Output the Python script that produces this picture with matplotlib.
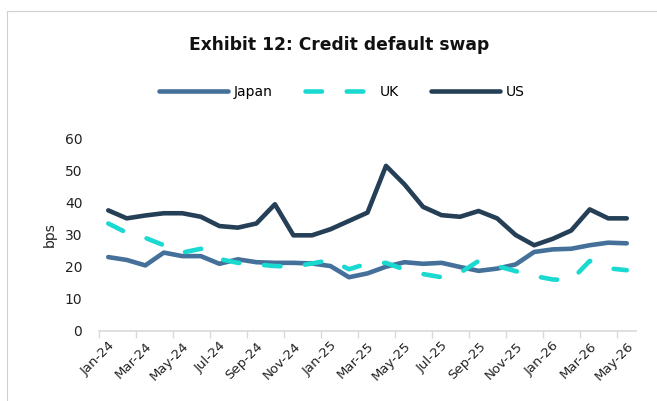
import numpy as np
import matplotlib.pyplot as plt
from matplotlib.patches import Rectangle

months = ['Jan-24', 'Feb-24', 'Mar-24', 'Apr-24', 'May-24', 'Jun-24', 'Jul-24', 'Aug-24',
          'Sep-24', 'Oct-24', 'Nov-24', 'Dec-24', 'Jan-25', 'Feb-25', 'Mar-25', 'Apr-25',
          'May-25', 'Jun-25', 'Jul-25', 'Aug-25', 'Sep-25', 'Oct-25', 'Nov-25', 'Dec-25',
          'Jan-26', 'Feb-26', 'Mar-26', 'Apr-26', 'May-26']

japan = [23.1, 22.2, 20.5, 24.5, 23.4, 23.4, 21.0, 22.4, 21.5, 21.3, 21.3, 21.1, 20.3, 16.8,
         18.0, 20.1, 21.5, 21.0, 21.3, 20.0, 18.8, 19.5, 20.8, 24.7, 25.5, 25.7, 26.8, 27.6, 27.4]
uk = [33.6, 30.7, 29.1, 26.8, 24.5, 25.7, 22.5, 21.3, 20.8, 20.3, 20.1, 21.1, 22.2, 19.3,
      21.1, 21.3, 19.2, 17.8, 16.8, 18.2, 21.9, 20.3, 18.7, 17.2, 16.1, 15.9, 21.9, 19.6, 19.0]
us = [37.7, 35.2, 36.1, 36.8, 36.8, 35.7, 32.8, 32.3, 33.6, 39.6, 29.9, 29.9, 31.8, 34.4,
      37.0, 51.6, 45.8, 38.8, 36.2, 35.7, 37.5, 35.2, 30.0, 26.8, 28.8, 31.4, 38.0, 35.2, 35.2]

c_japan = '#44709A'
c_uk = '#19D9D1'
c_us = '#253F57'

fig = plt.figure(figsize=(6.57, 4.01), dpi=100)
# light frame around the chart (only left and top edges fall inside the image)
fig.patches.append(Rectangle((7 / 657, -0.05), 1.2, (401 - 11) / 401 + 0.05,
                             transform=fig.transFigure, fill=False,
                             edgecolor='#D0D0D0', lw=0.8))

ax = fig.add_axes([99 / 657, 70 / 401, (636 - 99) / 657, 192 / 401])
x = np.arange(len(months))

ax.plot(x, japan, color=c_japan, lw=3.3, solid_capstyle='round', label='Japan')
ax.plot(x, uk, color=c_uk, lw=3.3, dashes=(3.6, 5.4), dash_capstyle='round', label='UK')
ax.plot(x, us, color=c_us, lw=3.3, solid_capstyle='round', label='US')

ax.set_xlim(-0.5, len(months) - 0.5)
ax.set_ylim(0, 60)
ax.set_yticks(range(0, 61, 10))
ax.tick_params(axis='y', length=0, pad=12, labelsize=10, labelcolor='#222222')

ax.set_xticks(x[::2])
ax.set_xticklabels(months[::2], rotation=45, ha='right', rotation_mode='anchor')
ax.set_xticks(np.arange(-0.5, len(months) - 1, 2), minor=True)
ax.tick_params(axis='x', which='major', length=0, pad=6, labelsize=9.5, labelcolor='#222222')
ax.tick_params(axis='x', which='minor', length=5, width=1, color='#D9D9D9')

for s in ['top', 'right', 'left']:
    ax.spines[s].set_visible(False)
ax.spines['bottom'].set_color('#D9D9D9')
ax.spines['bottom'].set_linewidth(1.2)

ax.set_ylabel('bps', fontsize=10, labelpad=6, color='#222222')

fig.text(0.516, 1 - 45 / 401, 'Exhibit 12: Credit default swap', ha='center', va='center',
         fontsize=12.3, fontweight='bold', color='#111111')
fig.legend(loc='center', bbox_to_anchor=(0.52, 1 - 92 / 401), ncol=3, frameon=False,
           fontsize=10, handlelength=5, handletextpad=0.4, columnspacing=2.3)

fig.savefig('out.png', dpi=100)
